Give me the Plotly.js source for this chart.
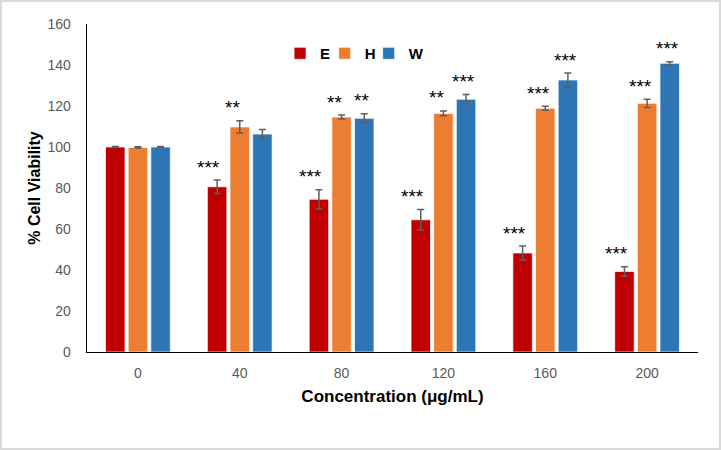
<!DOCTYPE html>
<html>
<head>
<meta charset="utf-8">
<script src="https://cdn.plot.ly/plotly-3.0.1.min.js"></script>
<style>
  html, body { margin: 0; padding: 0; background: #fff; }
  #wrap { position: relative; width: 721px; height: 450px; }
  #chart { position: absolute; left: 0; top: 0; width: 721px; height: 450px; }
  #frame { position: absolute; left: 0; top: 0; width: 721px; height: 450px; box-sizing: border-box; border: 2px solid #d9d9d9; pointer-events: none; }
</style>
</head>
<body>
<div id="wrap"><div id="chart"></div><div id="frame"></div></div>
<script>
const categories = ['0', '40', '80', '120', '160', '200'];

const seriesNames = ['E', 'H', 'W'];
const valuesE = [100, 80.6, 74.5, 64.5, 48.3, 39.3];
const valuesH = [99.8, 109.8, 114.6, 116.4, 118.9, 121.3];
const valuesW = [100, 106.3, 114.0, 123.3, 132.7, 140.8];

const errE = [0.3, 3.3, 4.6, 5.0, 3.4, 2.3];
const errH = [0.3, 3.0, 1.0, 1.2, 1.0, 2.0];
const errW = [0.2, 2.2, 2.2, 2.3, 3.4, 0.8];

const starsE = ['', '***', '***', '***', '***', '***'];
const starsH = ['', '**', '**', '**', '***', '***'];
const starsW = ['', '', '**', '***', '***', '***'];

const colors = ['#C00000', '#ED7D31', '#2E75B6'];
const allValues = [valuesE, valuesH, valuesW];
const allErr = [errE, errH, errW];
const allStars = [starsE, starsH, starsW];
const legendIds = ['legend', 'legend2', 'legend3'];
const FONT = 'Liberation Sans, Arial, sans-serif';

const traces = allValues.map((vals, i) => ({
  type: 'bar',
  name: seriesNames[i],
  legend: legendIds[i],
  x: categories,
  y: vals,
  marker: { color: colors[i], line: { color: 'rgba(255,255,255,0.7)', width: 1 } },
  error_y: { type: 'data', array: allErr[i], visible: true, color: '#5f5f5f', thickness: 1.5, width: 3.5 }
}));

const groupShift = [-23, 0, 23];
const starNudge = [-8, -7, -3];
const annotations = [];
for (let i = 0; i < allStars.length; i++) {
  for (let j = 0; j < categories.length; j++) {
    const s = allStars[i][j];
    if (!s) continue;
    annotations.push({
      x: j, y: allValues[i][j] + allErr[i][j],
      xref: 'x', yref: 'y',
      text: s, showarrow: false,
      xshift: groupShift[i] + starNudge[i], yshift: 13,
      xanchor: 'center', yanchor: 'middle',
      font: { family: FONT, size: 19, color: '#000000' }
    });
  }
}

const legendFont = { family: FONT, size: 15, color: '#000', weight: 'bold' };
const legendBase = { orientation: 'h', yanchor: 'middle', xanchor: 'left', y: 0.91, font: legendFont, bgcolor: 'rgba(0,0,0,0)', itemwidth: 30 };

const layout = {
  width: 721, height: 450,
  margin: { l: 87, r: 23, t: 24, b: 98, pad: 0 },
  paper_bgcolor: '#fff', plot_bgcolor: '#fff',
  barmode: 'group', bargap: 0.333, bargroupgap: 0.14,
  showlegend: true,
  legend: Object.assign({}, legendBase, { x: 0.316 }),
  legend2: Object.assign({}, legendBase, { x: 0.389 }),
  legend3: Object.assign({}, legendBase, { x: 0.461 }),
  xaxis: {
    type: 'category', range: [-0.5, 5.5],
    showline: true, linecolor: '#000', linewidth: 1.3,
    ticks: '', showgrid: false, zeroline: false,
    tickfont: { family: FONT, size: 14, color: '#595959' },
    ticklabelstandoff: 8,
    title: { text: '<b>Concentration (μg/mL)</b>', standoff: 10,
      font: { family: FONT, size: 17, color: '#000' } }
  },
  yaxis: {
    range: [0, 160], dtick: 20,
    showline: true, linecolor: '#000', linewidth: 1.3,
    ticks: '', showgrid: false, zeroline: false,
    tickfont: { family: FONT, size: 14, color: '#595959' },
    ticklabelstandoff: 12,
    title: { text: '<b>% Cell Viability</b>', standoff: 3,
      font: { family: FONT, size: 16, color: '#000' } }
  },
  annotations: annotations
};

Plotly.newPlot('chart', traces, layout, { displayModeBar: false, staticPlot: true });
</script>
</body>
</html>
